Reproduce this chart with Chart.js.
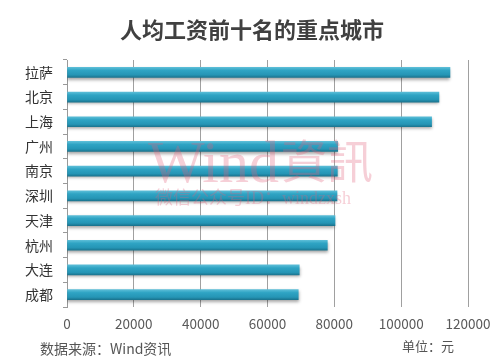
<!DOCTYPE html>
<html>
<head>
<meta charset="utf-8">
<script src="https://cdn.jsdelivr.net/npm/chart.js@4"></script>
<style>
html, body { margin: 0; padding: 0; background: #fff; }
#wrap { width: 500px; height: 364px; position: relative; }
</style>
</head>
<body>
<div id="wrap"><canvas id="myChart" width="500" height="364"></canvas></div>
<script>
// data
const cities = ["拉萨", "北京", "上海", "广州", "南京", "深圳", "天津", "杭州", "大连", "成都"];
const wages = [114600, 111300, 109100, 81000, 80900, 80800, 80200, 77900, 69500, 69200];
const tickValues = [0, 20000, 40000, 60000, 80000, 100000, 120000];

const titleText = "人均工资前十名的重点城市";
const sourceText = "数据来源：Wind资讯";
const unitText = "单位：元";

const cjk = '"Noto Sans CJK SC", "Noto Sans", sans-serif';

// bar gradient, one per bar
function barFill(context) {
	const chart = context.chart;
	if (!chart.chartArea || !chart.scales.y) {
		return "#2b9fc0";
	}
	const yc = chart.scales.y.getPixelForValue(context.dataIndex);
	const g = chart.ctx.createLinearGradient(0, yc - 5, 0, yc + 5);
	g.addColorStop(0, "#5bbdd7");
	g.addColorStop(0.3, "#2fa4c4");
	g.addColorStop(0.75, "#2595b5");
	g.addColorStop(1, "#1b7590");
	return g;
}

const shadowPlugin = {
	id: "shadow",
	beforeDatasetsDraw(chart) {
		const ctx = chart.ctx;
		ctx.save();
		ctx.shadowColor = "rgba(0,0,0,0.35)";
		ctx.shadowBlur = 3;
		ctx.shadowOffsetY = 2;
	},
	afterDatasetsDraw(chart) {
		chart.ctx.restore();
	}
};

const textPlugin = {
	id: "texts",
	afterDraw(chart) {
		const ctx = chart.ctx;
		ctx.save();

		// watermark
		ctx.globalAlpha = 0.3;
		ctx.fillStyle = "#e0607a";
		ctx.textBaseline = "alphabetic";
		ctx.textAlign = "left";
		ctx.font = '60px "Liberation Serif", "DejaVu Serif", serif';
		ctx.fillText("Wind", 148, 182);
		const wW = ctx.measureText("Wind").width;
		ctx.font = '46px "Noto Sans CJK TC", sans-serif';
		ctx.fillText("資訊", 148 + wW + 2, 178);
		ctx.font = '18px "Liberation Serif", "Noto Sans CJK SC", serif';
		ctx.fillText("微信公众号ID：windzxsh", 155, 204);
		ctx.globalAlpha = 1;

		// title
		ctx.fillStyle = "#404040";
		ctx.textAlign = "center";
		ctx.textBaseline = "middle";
		ctx.font = "bold 22px " + cjk;
		ctx.fillText(titleText, 252, 30);

		// footer
		ctx.fillStyle = "#555";
		ctx.textAlign = "left";
		ctx.font = "14px " + cjk;
		ctx.fillText(sourceText, 40, 349);
		ctx.font = "13px " + cjk;
		ctx.fillText(unitText, 402, 346);

		ctx.restore();
	}
};

new Chart("myChart", {
	type: "bar",
	data: {
		labels: cities,
		datasets: [{
			data: wages,
			backgroundColor: barFill,
			borderWidth: 0,
			barThickness: 10
		}]
	},
	options: {
		indexAxis: "y",
		responsive: false,
		animation: false,
		layout: {
			padding: { left: 0, right: 32, top: 60, bottom: 0 }
		},
		scales: {
			x: {
				min: 0,
				max: 120000,
				afterBuildTicks(axis) {
					axis.ticks = tickValues.map(v => ({ value: v }));
				},
				afterFit(axis) {
					axis.height = 57;
				},
				grid: {
					color: "#a0a0a0",
					lineWidth: 1,
					drawTicks: false
				},
				border: { display: false },
				ticks: {
					padding: 9,
					color: "#595959",
					font: { family: cjk, size: 13.5 },
					maxRotation: 0,
					callback: v => String(v)
				}
			},
			y: {
				afterFit(axis) {
					axis.width = 67;
				},
				grid: {
					drawOnChartArea: false,
					drawTicks: true,
					tickLength: 4,
					color: "#999"
				},
				border: { display: true, color: "#999" },
				ticks: {
					padding: 10,
					color: "#333",
					font: { family: cjk, size: 14 }
				}
			}
		},
		plugins: {
			legend: { display: false },
			tooltip: { enabled: false }
		}
	},
	plugins: [shadowPlugin, textPlugin]
});
</script>
</body>
</html>
